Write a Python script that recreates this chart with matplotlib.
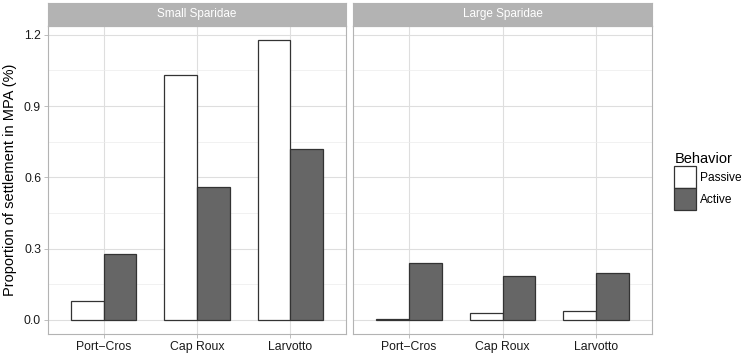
import matplotlib
matplotlib.use("Agg")
import matplotlib.pyplot as plt
import numpy as np
from matplotlib.patches import Patch

plt.rcParams['font.family'] = ['Liberation Sans', 'DejaVu Sans']

sites = ["Port\u2212Cros", "Cap Roux", "Larvotto"]
groups = ["Small Sparidae", "Large Sparidae"]
behaviors = ["Passive", "Active"]
small_passive = [0.080, 1.030, 1.178]
small_active = [0.276, 0.558, 0.718]
large_passive = [0.006, 0.031, 0.036]
large_active = [0.238, 0.185, 0.198]

fills = {"Passive": "white", "Active": "#666666"}
edge = "#333333"
grid_c = "#dedede"
frame_c = "#b3b3b3"

fig = plt.figure(figsize=(7.43, 3.56), dpi=100)
W, H = 743, 356
def ax_at(x0, x1, ytop, ybot):
    return fig.add_axes([x0 / W, 1 - ybot / H, (x1 - x0) / W, (ybot - ytop) / H])

panels = [(48, 346, small_passive, small_active), (353, 652, large_passive, large_active)]
x = np.arange(1, 4)
w = 0.35
for i, (x0, x1, pas, act) in enumerate(panels):
    ax = ax_at(x0, x1, 26, 334)
    ax.set_xlim(0.4, 3.6)
    ax.set_ylim(-0.059, 1.237)
    ax.set_yticks([0.15, 0.45, 0.75, 1.05], minor=True)
    ax.set_yticks([0.0, 0.3, 0.6, 0.9, 1.2])
    ax.grid(True, which="major", color=grid_c, linewidth=0.8)
    ax.grid(True, which="minor", axis="y", color="#ececec", linewidth=0.5)
    ax.set_axisbelow(True)
    ax.bar(x - w / 2, pas, width=w, color=fills["Passive"], edgecolor=edge, linewidth=0.9)
    ax.bar(x + w / 2, act, width=w, color=fills["Active"], edgecolor=edge, linewidth=0.9)
    ax.set_xticks(x)
    ax.set_xticklabels(sites, fontsize=8.8, color="#1a1a1a")
    ax.tick_params(axis="both", which="major", length=3, color=frame_c, width=0.6, pad=2)
    ax.tick_params(axis="y", which="minor", length=0)
    if i == 0:
        ax.set_yticklabels(["0.0", "0.3", "0.6", "0.9", "1.2"], fontsize=8.8, color="#1a1a1a")
        ax.set_ylabel("Proportion of settlement in MPA (%)", fontsize=10.5, labelpad=5)
    else:
        ax.tick_params(axis="y", which="major", length=0, labelleft=False)
    for s in ax.spines.values():
        s.set_color(frame_c)
        s.set_linewidth(0.8)
    # strip
    st = ax_at(x0, x1, 3, 26)
    st.set_facecolor(frame_c)
    st.set_xticks([]); st.set_yticks([])
    for s in st.spines.values():
        s.set_color(frame_c)
    st.text(0.5, 0.5, groups[i], ha="center", va="center", color="white", fontsize=8.5,
            transform=st.transAxes)

handles = [Patch(facecolor=fills[b], edgecolor=edge, linewidth=0.9, label=b) for b in behaviors]
fig.legend(handles=handles, title="Behavior", loc="upper left", bbox_to_anchor=(666 / W, 1 - 144 / H),
           frameon=False, fontsize=8.6, title_fontsize=10.5, handlelength=1.85, handleheight=2.45,
           handletextpad=0.3, labelspacing=0.0, alignment="left", borderpad=0.2)

fig.savefig("out.png", dpi=100)
